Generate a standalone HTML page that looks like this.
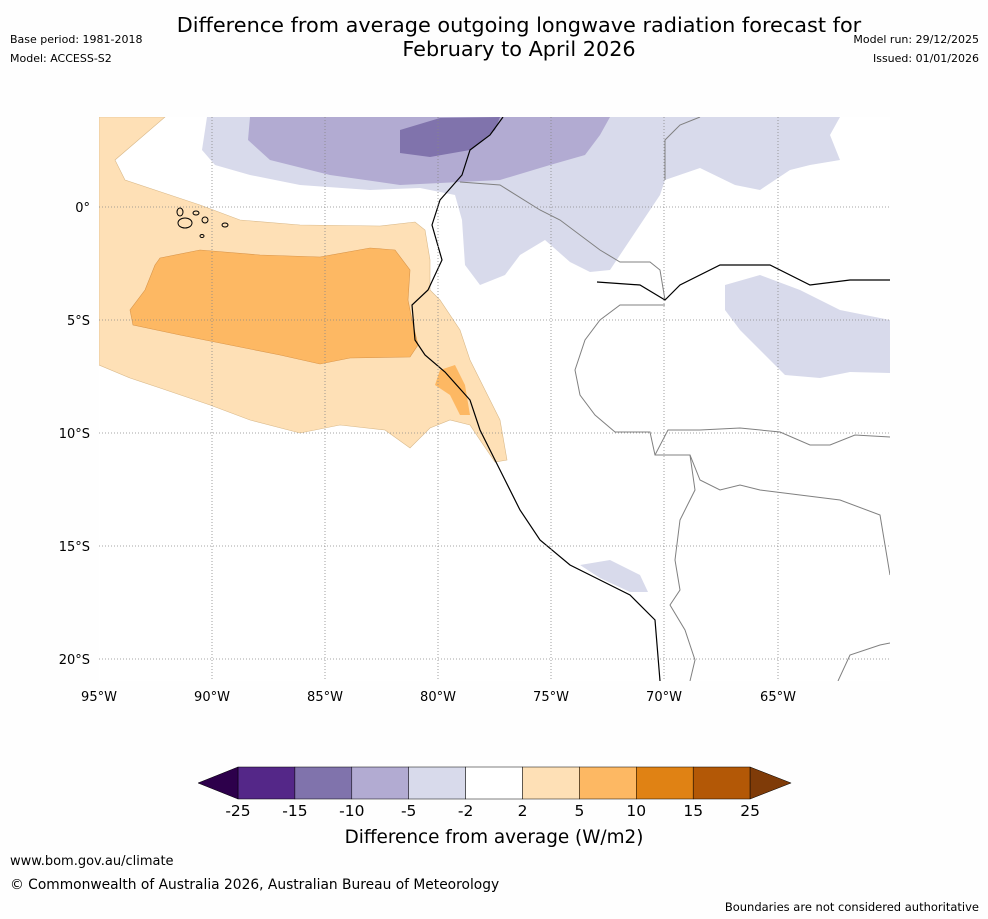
<!DOCTYPE html>
<html><head><meta charset="utf-8"><style>
body{margin:0;background:#fff;width:988px;height:919px;overflow:hidden;font-family:"DejaVu Sans",sans-serif;}
svg{display:block}
</style></head><body>
<svg width="988" height="919" viewBox="0 0 988 919" font-family="DejaVu Sans, sans-serif">
<rect width="988" height="919" fill="#fefefe"/>
<text x="519" y="32" font-size="20.8" text-anchor="middle">Difference from average outgoing longwave radiation forecast for</text>
<text x="519" y="56" font-size="20.8" text-anchor="middle">February to April 2026</text>
<text x="10" y="43" font-size="11">Base period: 1981-2018</text>
<text x="10" y="62" font-size="11">Model: ACCESS-S2</text>
<text x="979" y="43" font-size="11" text-anchor="end">Model run: 29/12/2025</text>
<text x="979" y="62" font-size="11" text-anchor="end">Issued: 01/01/2026</text>

<g>
<clipPath id="mc"><rect x="99" y="117" width="791" height="564"/></clipPath>
<g clip-path="url(#mc)">
<rect x="99" y="117" width="791" height="564" fill="#fff"/>
<polygon fill="#fee0b6" stroke="#d9b98a" stroke-width="0.6" points="99,117 165,117 115,160 125,180 170,195 200,205 240,220 300,225 380,226 415,222 425,230 430,260 430,290 440,300 460,330 470,360 485,390 500,420 507,460 495,462 480,440 470,425 450,420 430,428 410,448 385,430 340,425 300,433 250,420 210,405 160,388 130,378 99,365"/>
<polygon fill="#fdb863" stroke="#d9954a" stroke-width="0.6" points="160,258 200,250 260,255 320,257 370,248 395,250 410,270 408,300 412,320 418,345 410,357 350,358 320,364 280,355 230,345 180,335 133,325 130,310 145,290 155,265"/>
<polygon fill="#fdb863" points="440,370 455,365 465,385 470,415 460,415 450,395 435,385"/>
<polygon fill="#d8daeb" points="207,117 840,117 830,135 840,160 810,165 790,170 760,190 735,185 700,168 665,180 660,195 640,225 620,255 610,270 590,272 570,262 545,240 520,255 505,275 480,285 465,265 462,220 455,195 420,188 370,190 300,185 250,175 215,165 202,150"/>
<polygon fill="#d8daeb" points="725,285 760,275 800,290 840,310 890,320 890,373 850,372 820,378 785,375 760,350 740,330 725,310"/>
<polygon fill="#d8daeb" points="580,565 610,560 640,575 648,592 630,592 600,578"/>
<polygon fill="#b2abd2" points="250,117 610,117 600,135 585,155 550,165 500,180 460,182 400,185 330,175 270,160 248,140"/>
<polygon fill="#8073ac" points="400,130 440,118 500,117 495,130 470,150 430,157 400,153"/>
<polyline fill="none" stroke="#808080" stroke-width="1" points="460,182 500,185 540,210 560,220 600,250 620,262 650,262 660,270 665,300"/>
<polyline fill="none" stroke="#808080" stroke-width="1" points="665,305 620,305 600,320 585,340 575,370 580,395 595,415 615,432 650,432 655,455 690,455 700,480 720,490 740,485 760,490 800,495 840,500 880,515 885,545 890,575"/>
<polyline fill="none" stroke="#808080" stroke-width="1" points="690,455 695,490 680,520 675,560 680,590 670,605 685,630 695,660 690,681"/>
<polyline fill="none" stroke="#808080" stroke-width="1" points="655,455 668,430 700,430 740,428 780,432 810,445 830,445 855,435 890,437"/>
<polyline fill="none" stroke="#808080" stroke-width="1" points="838,681 850,655 880,645 890,643"/>
<polyline fill="none" stroke="#808080" stroke-width="1" points="665,180 665,140 680,125 700,117"/>
<polyline fill="none" stroke="#000" stroke-width="1.2" points="503,117 490,135 470,150 462,175 440,200 432,225 442,260 428,290 412,305 415,340 425,355 445,372 470,400 480,430 495,460 505,480 520,510 540,540 570,565 600,580 630,595 655,620 660,681"/>
<polyline fill="none" stroke="#000" stroke-width="1.2" points="597,282 640,285 665,300 680,285 720,265 770,265 810,285 850,280 890,280"/>
<g fill="none" stroke="#000" stroke-width="1">
<ellipse cx="185" cy="223" rx="7" ry="5"/><ellipse cx="180" cy="212" rx="3" ry="4"/><ellipse cx="196" cy="213" rx="3" ry="2"/><ellipse cx="205" cy="220" rx="3" ry="3"/><ellipse cx="225" cy="225" rx="3" ry="2"/><ellipse cx="202" cy="236" rx="2" ry="1.5"/>
</g>
<g stroke="#888" stroke-width="0.8" stroke-dasharray="1,2">
<line x1="212" y1="117" x2="212" y2="681"/><line x1="325" y1="117" x2="325" y2="681"/><line x1="438" y1="117" x2="438" y2="681"/><line x1="551" y1="117" x2="551" y2="681"/><line x1="664" y1="117" x2="664" y2="681"/><line x1="778" y1="117" x2="778" y2="681"/>
<line x1="99" y1="207" x2="890" y2="207"/><line x1="99" y1="320" x2="890" y2="320"/><line x1="99" y1="433" x2="890" y2="433"/><line x1="99" y1="546" x2="890" y2="546"/><line x1="99" y1="659" x2="890" y2="659"/>
</g>
</g>
<g font-size="13" text-anchor="end">
<text x="90" y="212">0°</text><text x="90" y="325">5°S</text><text x="90" y="438">10°S</text><text x="90" y="551">15°S</text><text x="90" y="664">20°S</text>
</g>
<g font-size="13" text-anchor="middle">
<text x="99" y="701">95°W</text><text x="212" y="701">90°W</text><text x="325" y="701">85°W</text><text x="438" y="701">80°W</text><text x="551" y="701">75°W</text><text x="664" y="701">70°W</text><text x="778" y="701">65°W</text>
</g>
</g>

<g id="cbar"></g>
<text x="494" y="843" font-size="18.4" text-anchor="middle">Difference from average (W/m2)</text>
<text x="10" y="865" font-size="13">www.bom.gov.au/climate</text>
<text x="10" y="889" font-size="13.8">© Commonwealth of Australia 2026, Australian Bureau of Meteorology</text>
<text x="979" y="911" font-size="11.5" text-anchor="end">Boundaries are not considered authoritative</text>
</svg>
<script>
const levels=["-25","-15","-10","-5","-2","2","5","10","15","25"];
const colors=["#542788","#8073ac","#b2abd2","#d8daeb","#ffffff","#fee0b6","#fdb863","#e08214","#b35806"];
const g=document.getElementById('cbar');const NS="http://www.w3.org/2000/svg";
const x0=238,w=56.9,y0=767,h=32;
function mk(t,a){const e=document.createElementNS(NS,t);for(const k in a)e.setAttribute(k,a[k]);g.appendChild(e);return e;}
colors.forEach((c,i)=>{const r=mk('rect',{x:x0+i*w,y:y0,width:w,height:h,fill:c,stroke:'#000','stroke-width':0.5});

});
const lt=mk('polygon',{points:`${x0},${y0} ${x0-40},${y0+h/2} ${x0},${y0+h}`,fill:'#2d004b',stroke:'#000','stroke-width':0.5});


const xe=x0+colors.length*w;
const rt=mk('polygon',{points:`${xe},${y0} ${xe+41},${y0+h/2} ${xe},${y0+h}`,fill:'#7f3b08',stroke:'#000','stroke-width':0.5});


levels.forEach((l,i)=>{const t=mk('text',{x:x0+i*w,y:816,'font-size':15.5,'text-anchor':'middle'});t.textContent=l;

});
</script>
</body></html>
